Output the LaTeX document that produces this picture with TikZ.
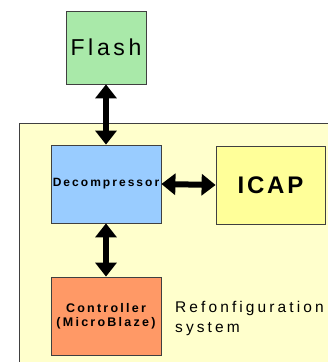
\documentclass[tikz,border=0pt]{standalone}
\usepackage{fontspec}
\setmainfont{Liberation Sans}
\usetikzlibrary{arrows.meta}
\definecolor{flashg}{HTML}{A9E9A9}
\definecolor{decb}{HTML}{99CCFF}
\definecolor{icapy}{HTML}{FFFF99}
\definecolor{ctrlo}{HTML}{FF9966}
\definecolor{sysy}{HTML}{FFFFCC}
\definecolor{edge}{HTML}{404040}
\tikzset{
  blk/.style={draw=edge, line width=0.8pt, inner sep=0pt, minimum width=110pt, minimum height=78pt, align=center},
  dbl/.style={line width=6pt, {Triangle[length=14pt,width=21pt]}-{Triangle[length=14pt,width=21pt]}}
}
\begin{document}
\begin{tikzpicture}[x=1pt,y=-1pt]
\useasboundingbox (0,0) rectangle (328,362);
\begin{scope}
\clip (0,0) rectangle (328,362);
\draw[draw=edge, line width=0.8pt, fill=sysy] (19,123) rectangle (340,380);
\end{scope}
\node[blk, fill=flashg, minimum width=80pt, minimum height=73pt,
  font={\fontsize{23}{26}\selectfont\addfontfeatures{LetterSpace=16}}] (flash) at (106,47.5) {Flash};
\node[blk, fill=decb,
  font={\fontsize{12}{14}\selectfont\bfseries\addfontfeatures{LetterSpace=17}}] (dec) at (106,184) {Decompressor};
\node[blk, fill=icapy, minimum width=109pt,
  font={\fontsize{24}{27}\selectfont\bfseries\addfontfeatures{LetterSpace=12}}] (icap) at (270.5,185) {ICAP};
\node[blk, fill=ctrlo,
  font={\fontsize{12.5}{14}\selectfont\bfseries\addfontfeatures{LetterSpace=18}}] (ctrl) at (106,316)
  {Controller\\(MicroBlaze)};
\node[anchor=west, align=left, inner sep=0pt,
  font={\fontsize{15.5}{20}\selectfont\addfontfeatures{LetterSpace=20}}] (lbl) at (175,318)
  {Refonfiguration\\system};
\draw[dbl] (flash.south) -- (dec.north);
\draw[dbl] (ctrl.north) -- (dec.south);
\draw[dbl] (dec.east) -- (icap.west);
\end{tikzpicture}
\end{document}
